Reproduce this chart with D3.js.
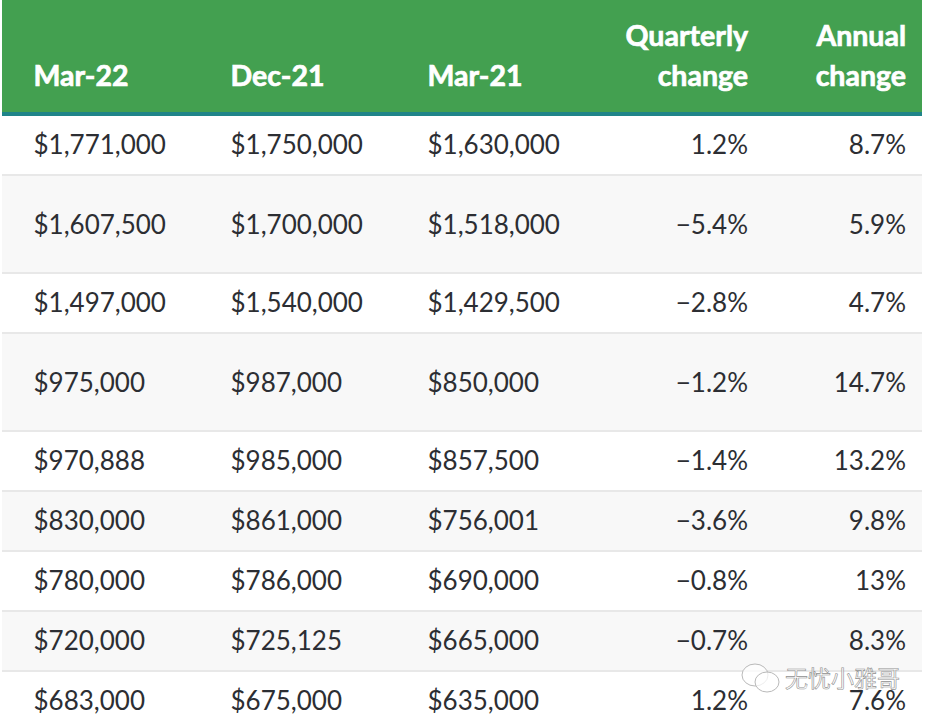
<!DOCTYPE html>
<html><head><meta charset="utf-8">
<script src="https://cdn.jsdelivr.net/npm/d3@7"></script>
<style>html,body{margin:0;padding:0;background:#fff}svg{display:block}</style>
</head><body><div id="c"></div>
<script>
const headers = [["Mar-22"],["Dec-21"],["Mar-21"],["Quarterly","change"],["Annual","change"]];
const mar22 = [1771000,1607500,1497000,975000,970888,830000,780000,720000,683000];
const dec21 = [1750000,1700000,1540000,987000,985000,861000,786000,725125,675000];
const mar21 = [1630000,1518000,1429500,850000,857500,756001,690000,665000,635000];
const quarterly = [1.2,-5.4,-2.8,-1.2,-1.4,-3.6,-0.8,-0.7,1.2];
const annual = [8.7,5.9,4.7,14.7,13.2,9.8,13,8.3,7.6];

const W=930,H=720,left=2,right=922;
const rowTops=[116,176,274,334,432,492,552,612,672,732];
const colX=[33.5,230.5,427.5,748,906];
const fam="Lato,'Open Sans',sans-serif";
const money=d3.format("$,");
const pct=v=>(v<0?"\u2212":"")+Math.abs(v)+"%";
const cols=[mar22.map(money),dec21.map(money),mar21.map(money),quarterly.map(pct),annual.map(pct)];
const svg=d3.select("#c").append("svg").attr("width",W).attr("height",H);
const rows=d3.range(mar22.length);
svg.append("rect").attr("x",left).attr("y",0).attr("width",right-left).attr("height",112).attr("fill","#43a050");
svg.append("rect").attr("x",left).attr("y",112).attr("width",right-left).attr("height",4).attr("fill","#1f8489");
svg.selectAll(".bg").data(rows).join("rect").attr("class","bg").attr("x",left).attr("width",right-left)
  .attr("y",i=>rowTops[i]).attr("height",i=>rowTops[i+1]-rowTops[i])
  .attr("fill",i=>i%2?"#f8f8f8":"#fff");
svg.selectAll(".ln").data(rows.slice(1)).join("rect").attr("class","ln").attr("x",left).attr("width",right-left)
  .attr("y",i=>rowTops[i]-2).attr("height",2).attr("fill","#e8e8e8");
const base=[154,234,312,392,470,530,590,650,710];
cols.forEach((c,j)=>{
  svg.selectAll(".c"+j).data(c).join("text").attr("class","c"+j)
   .attr("x",colX[j]).attr("y",(d,i)=>base[i])
   .attr("text-anchor",j>2?"end":"start")
   .attr("font-family",fam).attr("font-size",26).attr("fill","#2c2e33").text(d=>d);
});
headers.forEach((h,j)=>{
  h.forEach((t,k)=>{
    svg.append("text").attr("x",colX[j]).attr("y",86-(h.length-1-k)*40)
     .attr("text-anchor",j>2?"end":"start").attr("font-family",fam).attr("font-weight",700)
     .attr("font-size",28.5).attr("fill","#fff").attr("stroke","#fff").attr("stroke-width",.7).text(t);
  });
});
const wm=svg.append("g").attr("fill","#fff").attr("fill-opacity",.75).attr("stroke","#b9b9b9").attr("stroke-width",1);
wm.append("ellipse").attr("cx",755).attr("cy",675).attr("rx",13).attr("ry",11);
wm.append("ellipse").attr("cx",767).attr("cy",682).attr("rx",12).attr("ry",10);
svg.append("text").attr("x",785).attr("y",687).attr("font-family","'Noto Sans CJK SC'").attr("font-size",23)
  .attr("fill","#fff").attr("fill-opacity",.75).attr("stroke","#8f8f8f").attr("stroke-width",.6).text("无忧小雅哥");
</script></body></html>
